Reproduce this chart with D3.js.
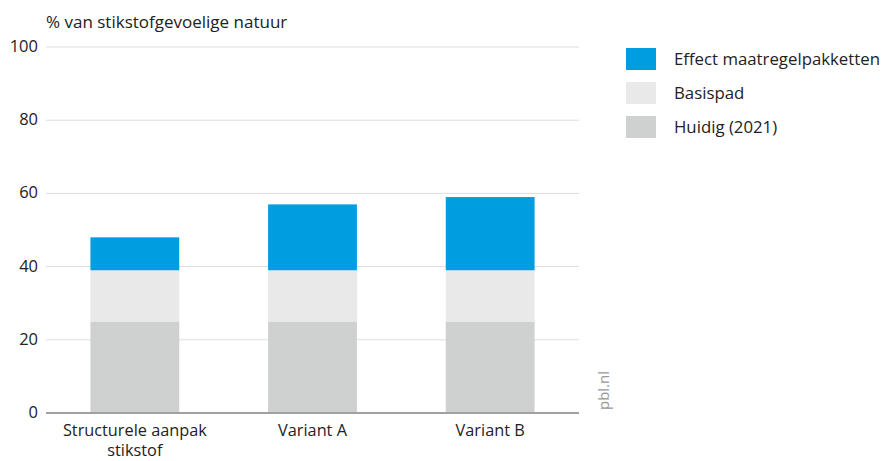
<!DOCTYPE html>
<html><head><meta charset="utf-8">
<script src="https://cdn.jsdelivr.net/npm/d3@7"></script>
<style>body{margin:0;background:#fff}svg{display:block;font-family:"Open Sans",sans-serif}</style>
</head><body><svg id="c" width="884" height="461"></svg>
<script>
const categories = [["Structurele aanpak","stikstof"],["Variant A"],["Variant B"]];
const seriesNames = ["Huidig (2021)","Basispad","Effect maatregelpakketten"];
const huidig = [25,25,25];
const basispad = [14,14,14];
const effect = [9,18,20];
const yTicks = [0,20,40,60,80,100];
const colors = ["#cfd0d0","#e9e9e9","#009ee0"];

const svg = d3.select("#c");
const L=46,R=579,T=47,B=413;
const x = d3.scaleBand().domain(d3.range(categories.length)).range([L,R]).paddingInner(0.5).paddingOuter(0.25);
const y = d3.scaleLinear().domain([0,100]).range([B,T]);

svg.append("text").attr("x",46).attr("y",28).attr("font-size",17).attr("fill","#222").text("% van stikstofgevoelige natuur");

svg.append("g").selectAll("line").data(yTicks.filter(d=>d>0)).join("line")
 .attr("x1",L).attr("x2",R).attr("y1",d=>y(d)).attr("y2",d=>y(d)).attr("stroke","#dddddd").attr("stroke-width",1);
svg.append("g").selectAll("text").data(yTicks).join("text")
 .attr("x",38).attr("y",d=>y(d)+5).attr("text-anchor","end").attr("font-size",16.5).attr("fill","#222").text(d=>d);

const rows = categories.map((c,i)=>({i,huidig:huidig[i],basispad:basispad[i],effect:effect[i]}));
const stack = d3.stack().keys(["huidig","basispad","effect"])(rows);
svg.append("g").selectAll("g").data(stack).join("g").attr("fill",(d,k)=>colors[k])
 .selectAll("rect").data(d=>d).join("rect")
 .attr("x",d=>x(d.data.i)).attr("width",x.bandwidth())
 .attr("y",d=>y(d[1])).attr("height",d=>y(d[0])-y(d[1]));

svg.append("line").attr("x1",L).attr("x2",R).attr("y1",y(0)).attr("y2",y(0)).attr("stroke","#a0a0a0").attr("stroke-width",2);

const xl = svg.append("g").selectAll("text").data(categories).join("text")
 .attr("text-anchor","middle").attr("font-size",16.3).attr("fill","#222")
 .attr("transform",(d,i)=>`translate(${x(i)+x.bandwidth()/2},436)`);
xl.selectAll("tspan").data(d=>d).join("tspan").attr("x",0).attr("dy",(d,j)=>j?20:0).text(d=>d);

svg.append("text").attr("transform","translate(609,410) rotate(-90)").attr("font-size",15).attr("fill","#999").text("pbl.nl");

const leg = [2,1,0];
const lg = svg.append("g").selectAll("g").data(leg).join("g").attr("transform",(d,k)=>`translate(626,${48+k*34})`);
lg.append("rect").attr("width",30).attr("height",22).attr("fill",d=>colors[d]);
lg.append("text").attr("x",48).attr("y",17).attr("font-size",16.8).attr("fill","#222").text(d=>seriesNames[d]);
</script></body></html>
